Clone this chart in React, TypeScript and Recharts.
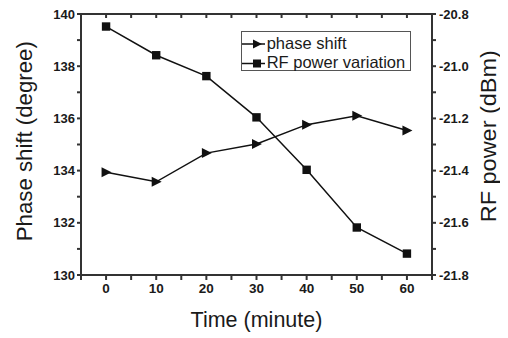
import React from "react";
import { LineChart, Line, XAxis, YAxis, Label } from "recharts";

const minutes = [0, 10, 20, 30, 40, 50, 60];
const phaseShift = [133.94, 133.57, 134.67, 135.02, 135.76, 136.1, 135.54];
const rfPower = [-20.848, -20.958, -21.038, -21.196, -21.397, -21.618, -21.718];

const xTicks = [-5, 0, 5, 10, 15, 20, 25, 30, 35, 40, 45, 50, 55, 60, 65];
const leftTicks = [130, 131, 132, 133, 134, 135, 136, 137, 138, 139, 140];
const rightTicks = [-21.8, -21.7, -21.6, -21.5, -21.4, -21.3, -21.2, -21.1, -21.0, -20.9, -20.8];

const data = minutes.map((t, i) => ({ t, phase: phaseShift[i], rf: rfPower[i] }));

const FONT = "'Liberation Sans', Arial, Helvetica, sans-serif";
const INK = "#1a1a1a";
const AXIS = "#333333";
const AXW = 2;

const BottomTick = (props: any) => {
  const { x, y, payload } = props;
  const v = payload.value;
  if (v < 0 || v % 10 !== 0) return <g />;
  return (
    <text x={x} y={y} dy="0.71em" textAnchor="middle" fontFamily={FONT} fontWeight="bold" fontSize={13.5} fill={INK}>
      {v}
    </text>
  );
};

const LeftTick = (props: any) => {
  const { x, y, payload } = props;
  const v = payload.value;
  if (v % 2 !== 0) return <g />;
  return (
    <text x={x} y={y} dy={4.6} textAnchor="end" fontFamily={FONT} fontWeight="bold" fontSize={13} fill={INK}>
      {v}
    </text>
  );
};

const RightTick = (props: any) => {
  const { x, y, payload } = props;
  const v = payload.value;
  if (Math.abs(Math.round(v * 10)) % 2 !== 0) return <g />;
  return (
    <text x={x} y={y} dy={4.6} textAnchor="start" fontFamily={FONT} fontWeight="bold" fontSize={13} fill={INK}>
      {v.toFixed(1)}
    </text>
  );
};

const EmptyTick = () => <g />;

const SquareDot = (props: any) => {
  const { cx, cy, index } = props;
  if (cx == null || cy == null) return <g key={index} />;
  return <rect key={index} x={cx - 4.2} y={cy - 4.2} width={8.4} height={8.4} fill="#111" />;
};

const TriangleDot = (props: any) => {
  const { cx, cy, index } = props;
  if (cx == null || cy == null) return <g key={index} />;
  return (
    <polygon
      key={index}
      points={`${cx - 4.5},${cy - 5} ${cx + 5.5},${cy} ${cx - 4.5},${cy + 5}`}
      fill="#111"
    />
  );
};

const LegendBox = () => (
  <div
    style={{
      position: "absolute",
      left: 232.7,
      top: 22.7,
      width: 170,
      height: 40,
      border: "1px solid #555",
      boxSizing: "border-box",
      background: "#fff",
      fontFamily: FONT,
      fontSize: 16.5,
      color: INK,
    }}
  >
    <svg width={26} height={40} style={{ position: "absolute", left: 0, top: 0 }}>
      <line x1={0} y1={12} x2={23} y2={12} stroke="#111" strokeWidth={1.5} />
      <polygon points="11,7.5 20,12 11,16.5" fill="#111" />
      <line x1={0} y1={31.5} x2={23} y2={31.5} stroke="#111" strokeWidth={1.5} />
      <rect x={11} y={27.5} width={8} height={8} fill="#111" />
    </svg>
    <div style={{ position: "absolute", left: 25, top: 2, lineHeight: "19px", whiteSpace: "nowrap" }}>
      phase shift
    </div>
    <div style={{ position: "absolute", left: 25, top: 21.5, lineHeight: "19px", whiteSpace: "nowrap" }}>
      RF power variation
    </div>
  </div>
);

export default function App() {
  return (
    <div style={{ width: 500, height: 330, position: "relative" }}>
      <LineChart width={500} height={330} data={data} margin={{ top: 6, right: 0, bottom: 0, left: 0 }}>
        <XAxis
          dataKey="t"
          type="number"
          domain={[-5, 65]}
          ticks={xTicks}
          interval={0}
          height={63}
          tickSize={5}
          tickMargin={3}
          stroke={AXIS}
          strokeWidth={AXW}
          tick={<BottomTick />}
          allowDataOverflow
        >
          <Label
            content={(p: any) => {
              const vb = p.viewBox;
              return (
                <text x={vb.x + vb.width / 2} y={318.5} textAnchor="middle" fontFamily={FONT} fontSize={21.5} fill={INK}>
                  Time (minute)
                </text>
              );
            }}
          />
        </XAxis>
        <XAxis
          xAxisId="top"
          dataKey="t"
          orientation="top"
          type="number"
          domain={[-5, 65]}
          ticks={xTicks}
          interval={0}
          height={1}
          mirror
          tickSize={4}
          stroke={AXIS}
          strokeWidth={AXW}
          tick={<EmptyTick />}
          allowDataOverflow
        />
        <YAxis
          yAxisId="left"
          type="number"
          domain={[130, 140]}
          ticks={leftTicks}
          interval={0}
          width={73}
          tickSize={4}
          tickMargin={2}
          stroke={AXIS}
          strokeWidth={AXW}
          tick={<LeftTick />}
          allowDataOverflow
        >
          <Label
            content={(p: any) => {
              const vb = p.viewBox;
              const cx = 23.7;
              const cy = vb.y + vb.height / 2 - 3.3;
              return (
                <text
                  x={cx}
                  y={cy}
                  transform={`rotate(-90, ${cx}, ${cy})`}
                  textAnchor="middle"
                  fontFamily={FONT}
                  fontSize={22}
                  fill={INK}
                  textLength={200}
                  lengthAdjust="spacingAndGlyphs"
                >
                  Phase shift (degree)
                </text>
              );
            }}
          />
        </YAxis>
        <YAxis
          yAxisId="right"
          orientation="right"
          type="number"
          domain={[-21.8, -20.8]}
          ticks={rightTicks}
          interval={0}
          width={76}
          tickSize={4}
          tickMargin={3}
          stroke={AXIS}
          strokeWidth={AXW}
          tick={<RightTick />}
          allowDataOverflow
        >
          <Label
            content={(p: any) => {
              const vb = p.viewBox;
              const cx = 488;
              const cy = vb.y + vb.height / 2 - 8.3;
              return (
                <text
                  x={cx}
                  y={cy}
                  transform={`rotate(-90, ${cx}, ${cy})`}
                  textAnchor="middle"
                  fontFamily={FONT}
                  fontSize={22}
                  fill={INK}
                  textLength={172}
                  lengthAdjust="spacingAndGlyphs"
                >
                  RF power (dBm)
                </text>
              );
            }}
          />
        </YAxis>
        <Line
          yAxisId="right"
          dataKey="rf"
          stroke="#111"
          strokeWidth={1.5}
          dot={<SquareDot />}
          activeDot={false}
          isAnimationActive={false}
        />
        <Line
          xAxisId="top"
          yAxisId="left"
          dataKey="phase"
          stroke="#111"
          strokeWidth={1.5}
          dot={<TriangleDot />}
          activeDot={false}
          isAnimationActive={false}
        />
      </LineChart>
      <LegendBox />
    </div>
  );
}
